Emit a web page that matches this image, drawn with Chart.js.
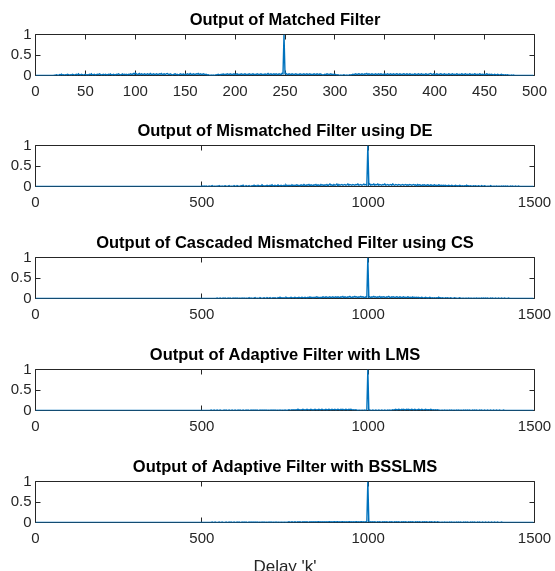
<!DOCTYPE html>
<html><head><meta charset="utf-8">
<script src="https://cdn.jsdelivr.net/npm/chart.js@4.4.1/dist/chart.umd.min.js"></script>
<style>
html,body{margin:0;padding:0;background:#fff;width:555px;height:571px;overflow:hidden;position:relative}
canvas{position:absolute;left:0}
</style></head><body>
<canvas id="c0" width="570" height="112" style="top:0px"></canvas>
<canvas id="c1" width="570" height="112" style="top:111px"></canvas>
<canvas id="c2" width="570" height="112" style="top:223px"></canvas>
<canvas id="c3" width="570" height="112" style="top:335px"></canvas>
<canvas id="c4" width="570" height="134" style="top:447px"></canvas>
<script>
// ---- titles / tick labels ----
const plotTitles = [
  "Output of Matched Filter",
  "Output of Mismatched Filter using DE",
  "Output of Cascaded Mismatched Filter using CS",
  "Output of Adaptive Filter with LMS",
  "Output of Adaptive Filter with BSSLMS"
];
const xAxisTitle = "Delay 'k'";
const yTickLabels = ["0", "0.5", "1"];     // normalised output: 0, 50, 100 % of peak
const xTickLabelsMF = ["0","50","100","150","200","250","300","350","400","450","500"];
const xTickLabelsLong = ["0","500","1000","1500"];
// delay axis (categories) : 0..499 for the matched filter, 0..1497 (every 3rd lag) for the others
const delayMF = Array.from({length: 500}, (_, i) => i);
const delayLong = Array.from({length: 500}, (_, i) => i * 3);

// ---- series values, in percent of the main peak ----
const matchedOut = [
0,0,0,0,0,0,0,0,0,0, 0,0,0,0,0,0,0,0,0,1, 1,2,1,0,2,1,3,1,2,1, 2,1,3,2,1,2,1,3,2,1,
2,3,1,4,2,1,3,2,1,2, 3,1,2,1,3,2,4,1,2,3, 1,2,3,2,4,3,1,2,3,1, 3,2,1,3,2,4,2,1,3,2,
1,3,2,4,3,1,2,4,2,3, 2,3,1,3,2,4,3,2,5,3, 6,4,2,3,5,2,4,3,2,4, 3,2,4,3,2,5,3,2,4,3,
2,4,3,2,4,3,5,2,3,4, 2,4,5,3,2,4,3,1,2,3, 4,2,3,1,2,4,3,2,4,2, 3,2,4,3,2,5,3,2,4,3,
2,4,3,5,2,4,3,2,4,3, 2,3,1,2,1,0,1,0,1,0, 1,2,1,3,2,1,3,2,4,2, 3,2,4,3,2,4,3,2,3,4,
2,3,4,2,3,2,4,3,2,3, 4,2,3,2,4,3,2,3,4,2, 3,2,4,3,2,3,4,2,3,2, 4,2,3,5,2,3,4,2,3,4,
2,4,3,2,4,3,2,5,4,100, 4,5,3,2,4,3,2,4,3,2, 3,4,2,3,2,4,3,2,3,4, 2,3,4,2,3,4,2,3,2,4,
3,2,4,3,2,4,3,2,1,2, 3,2,4,3,2,3,4,2,3,2, 3,2,1,2,1,0,1,0,1,2, 1,0,1,0,1,2,1,2,3,2,
3,4,2,3,4,3,2,4,3,2, 4,3,5,2,4,3,2,4,3,2, 3,4,2,3,4,2,4,3,2,3, 4,2,3,4,2,3,4,2,3,4,
2,3,4,3,2,4,3,2,3,4, 3,2,4,3,2,4,3,2,3,2, 4,3,2,3,4,2,3,4,2,3, 2,4,3,2,3,4,5,3,2,4,
3,2,4,3,2,3,4,3,2,3, 4,2,3,2,4,3,2,3,4,2, 3,2,4,3,2,3,2,4,3,2, 3,4,2,3,2,4,3,2,3,2,
4,3,2,3,2,4,3,2,3,2, 3,2,4,3,2,3,2,3,2,1, 3,2,1,3,2,1,2,3,1,2, 1,2,1,2,1,1,0,1,0,1,
0,0,0,0,0,0,0,0,0,0, 0,0,0,0,0,0,0,0,0,0
];
const deOut = [
0,0,0,0,0,0,0,0,0,0, 0,0,0,0,0,0,0,0,0,0, 0,0,0,0,0,0,0,0,0,0, 0,0,0,0,0,0,0,0,0,0,
0,0,0,0,0,0,0,0,0,0, 0,0,0,0,0,0,0,0,0,0, 0,0,0,0,0,0,0,0,0,0, 0,0,0,0,0,0,0,0,0,0,
0,0,0,0,0,0,0,0,0,0, 0,0,0,0,0,0,0,0,0,0, 0,0,0,0,0,0,0,0,0,0, 0,0,0,0,0,0,0,0,0,0,
0,0,0,0,0,0,0,0,0,0, 0,0,0,0,0,0,0,0,0,0, 0,0,0,0,0,0,0,0,0,0, 0,0,0,0,0,0,0,0,0,0,
0,0,0,0,0,0,0,1,0,1, 0,1,0,0,1,0,1,2,0,1, 1,0,1,0,2,1,0,1,0,1, 2,1,0,1,2,0,1,1,0,2,
1,0,2,1,1,0,2,1,3,1, 0,2,1,1,2,0,1,2,1,3, 1,2,0,3,1,2,1,4,2,1, 2,1,3,2,1,3,2,4,1,2,
3,1,2,4,2,1,3,2,1,3, 2,4,1,3,2,3,1,4,2,3, 2,3,4,2,3,1,4,3,2,5, 3,2,4,3,5,2,4,3,2,4,
3,5,2,4,3,2,5,3,4,2, 4,3,5,2,4,6,3,4,2,5, 3,4,6,2,5,3,4,5,3,4, 5,3,4,6,3,5,4,3,5,4,
3,5,4,6,3,4,5,3,4,6, 4,5,3,100,4,6,3,5,4,6, 3,5,4,6,3,5,4,3,5,4, 6,3,4,5,3,4,5,3,6,4,
3,5,4,3,5,4,3,4,5,3, 4,5,3,4,3,5,4,3,4,5, 3,4,2,5,3,4,3,2,4,3, 4,2,3,4,3,2,4,3,2,3,
4,2,3,2,4,3,2,3,2,3, 2,3,1,2,3,2,1,3,2,1, 2,3,1,2,1,3,2,1,2,1, 2,1,3,1,2,1,2,1,1,2,
1,2,1,1,2,1,0,2,1,1, 2,1,0,1,1,0,2,1,0,1, 1,0,1,0,1,1,0,1,0,1, 0,1,0,1,0,0,1,0,1,0,
0,1,0,0,1,0,0,0,0,0, 0,0,0,0,0,0,0,0,0,0
];
const csOut = [
0,0,0,0,0,0,0,0,0,0, 0,0,0,0,0,0,0,0,0,0, 0,0,0,0,0,0,0,0,0,0, 0,0,0,0,0,0,0,0,0,0,
0,0,0,0,0,0,0,0,0,0, 0,0,0,0,0,0,0,0,0,0, 0,0,0,0,0,0,0,0,0,0, 0,0,0,0,0,0,0,0,0,0,
0,0,0,0,0,0,0,0,0,0, 0,0,0,0,0,0,0,0,0,0, 0,0,0,0,0,0,0,0,0,0, 0,0,0,0,0,0,0,0,0,0,
0,0,0,0,0,0,0,0,0,0, 0,0,0,0,0,0,0,0,0,0, 0,0,0,0,0,0,0,0,0,0, 0,0,0,0,0,0,0,0,0,0,
0,0,0,0,0,0,0,0,0,0, 0,0,0,0,0,0,0,0,0,0, 0,0,1,0,0,1,0,0,1,0, 1,0,0,1,0,1,0,0,1,0,
1,0,1,0,1,1,0,1,0,1, 0,1,1,0,2,0,1,0,1,1, 2,0,1,1,0,2,1,0,1,2, 1,0,2,1,1,2,0,1,2,1,
2,1,0,2,1,3,1,2,1,2, 1,3,2,1,2,1,3,2,1,2, 3,1,2,2,3,1,2,3,2,1, 3,2,1,3,2,4,2,3,1,3,
2,3,4,2,3,1,3,2,4,3, 2,4,3,2,3,4,2,3,4,2, 3,4,2,4,3,2,4,3,5,2, 4,3,2,4,3,5,3,2,4,3,
5,3,4,2,4,3,5,3,4,3, 2,4,3,100,3,4,2,4,3,5, 3,4,2,4,3,5,2,4,3,4, 3,2,4,3,5,3,2,4,3,4,
2,3,4,3,2,4,3,2,3,4, 2,3,2,4,3,2,3,2,4,2, 3,2,3,2,3,1,2,3,2,1, 2,3,1,2,1,3,2,1,2,1,
2,1,2,1,3,1,2,1,2,1, 1,2,1,2,1,1,2,1,0,1, 2,1,1,0,1,2,1,0,1,1, 0,1,1,0,1,0,1,1,0,1,
1,0,1,0,1,1,0,1,0,1, 0,1,0,1,0,0,1,0,1,0, 0,1,0,0,1,0,0,1,0,0, 1,0,0,0,1,0,0,0,0,0,
0,0,0,0,0,0,0,0,0,0, 0,0,0,0,0,0,0,0,0,0
];
const lmsOut = [
0,0,0,0,0,0,0,0,0,0, 0,0,0,0,0,0,0,0,0,0, 0,0,0,0,0,0,0,0,0,0, 0,0,0,0,0,0,0,0,0,0,
0,0,0,0,0,0,0,0,0,0, 0,0,0,0,0,0,0,0,0,0, 0,0,0,0,0,0,0,0,0,0, 0,0,0,0,0,0,0,0,0,0,
0,0,0,0,0,0,0,0,0,0, 0,0,0,0,0,0,0,0,0,0, 0,0,0,0,0,0,0,0,0,0, 0,0,0,0,0,0,0,0,0,0,
0,0,0,0,0,0,0,0,0,0, 0,0,0,0,0,0,0,0,0,0, 0,0,0,0,0,0,0,0,0,0, 0,0,0,0,0,0,0,0,0,0,
0,0,0,0,0,0,0,0,0,0, 0,0,0,0,0,0,1,0,0,1, 0,0,1,0,0,1,0,0,0,1, 0,1,0,0,1,0,0,1,0,0,
1,0,0,1,0,1,0,0,1,0, 0,1,0,1,0,0,1,0,1,0, 1,0,1,0,0,1,0,1,0,1, 0,1,0,1,1,0,1,0,1,0,
1,0,1,1,0,1,0,1,1,0, 1,1,0,1,2,1,1,2,1,2, 1,2,1,3,1,2,1,2,3,1, 2,1,3,2,1,2,3,1,2,1,
3,2,1,2,3,1,2,3,2,1, 2,3,1,2,3,2,1,3,2,2, 3,1,2,3,2,1,3,2,3,1, 2,3,2,1,3,2,3,2,1,2,
1,2,1,0,1,1,0,1,1,0, 1,0,1,100,0,1,0,0,1,0, 0,1,0,0,1,0,0,1,0,0, 1,0,0,1,0,1,0,1,2,1,
2,3,1,2,3,2,1,3,2,3, 1,2,3,2,3,1,2,3,2,1, 3,2,1,2,3,2,1,3,2,1, 2,3,1,2,2,1,3,2,1,2,
1,2,1,2,1,1,0,1,1,0, 1,0,1,1,0,1,0,1,0,1, 1,0,1,0,1,0,1,1,0,1, 0,1,0,1,0,1,0,0,1,0,
1,0,1,0,0,1,0,1,0,0, 1,0,0,1,0,0,1,0,0,1, 0,0,1,0,0,1,0,0,0,1, 0,0,0,0,0,0,0,0,0,0,
0,0,0,0,0,0,0,0,0,0, 0,0,0,0,0,0,0,0,0,0
];
const bsslmsOut = [
0,0,0,0,0,0,0,0,0,0, 0,0,0,0,0,0,0,0,0,0, 0,0,0,0,0,0,0,0,0,0, 0,0,0,0,0,0,0,0,0,0,
0,0,0,0,0,0,0,0,0,0, 0,0,0,0,0,0,0,0,0,0, 0,0,0,0,0,0,0,0,0,0, 0,0,0,0,0,0,0,0,0,0,
0,0,0,0,0,0,0,0,0,0, 0,0,0,0,0,0,0,0,0,0, 0,0,0,0,0,0,0,0,0,0, 0,0,0,0,0,0,0,0,0,0,
0,0,0,0,0,0,0,0,0,0, 0,0,0,0,0,0,0,0,0,0, 0,0,0,0,0,0,0,0,0,0, 0,0,0,0,0,0,0,0,0,0,
0,0,0,0,0,0,0,0,0,0, 0,0,0,0,0,0,0,1,0,0, 1,0,0,0,1,0,0,1,0,0, 0,1,0,0,1,0,1,0,0,1,
0,0,1,0,1,0,0,1,0,1, 0,1,0,0,1,0,1,0,1,0, 1,0,1,0,1,1,0,1,0,1, 0,1,1,0,1,0,1,0,1,1,
0,1,0,1,1,0,1,1,0,1, 1,0,1,1,2,1,1,2,1,1, 2,1,1,2,1,2,1,1,2,1, 2,1,2,1,1,2,1,2,1,2,
1,2,1,2,2,1,2,1,2,1, 2,1,2,1,2,2,1,2,1,2, 2,1,2,2,1,2,1,2,2,1, 2,1,2,1,2,2,1,2,1,2,
1,2,2,1,2,1,2,2,1,2, 1,2,1,100,2,1,2,1,2,1, 2,1,1,2,1,2,1,1,2,1, 2,1,2,1,1,2,1,2,1,1,
2,1,2,1,2,1,1,2,1,2, 1,2,1,1,2,1,2,1,2,1, 1,2,1,2,1,2,1,1,2,1, 2,1,2,1,1,2,1,2,1,1,
2,1,1,2,1,1,0,1,1,0, 1,0,1,1,0,1,0,1,0,1, 1,0,1,0,1,0,1,0,0,1, 0,1,0,1,0,0,1,0,1,0,
1,0,0,1,0,1,0,0,1,0, 0,1,0,0,1,0,0,1,0,0, 1,0,0,1,0,0,0,1,0,0, 0,0,0,0,0,0,0,0,0,0,
0,0,0,0,0,0,0,0,0,0, 0,0,0,0,0,0,0,0,0,0
];

// ---- drawing ----
const FONT = "Arial, 'Liberation Sans', Helvetica, sans-serif";
const AXIS_COLOR = '#262626';
const LINE_COLOR = '#0072BD';

const matlabBox = {
  id: 'matlabBox',
  beforeDatasetsDraw(chart) {
    const {ctx, chartArea: a, scales: {x, y}} = chart;
    ctx.save();
    ctx.strokeStyle = AXIS_COLOR;
    ctx.lineWidth = 1;
    ctx.beginPath();
    ctx.rect(a.left, a.top, a.right - a.left, a.bottom - a.top);
    const tl = 5;
    x.ticks.forEach(t => {
      const px = Math.round(x.getPixelForValue(t.value) - 0.5) + 0.5;
      ctx.moveTo(px, a.bottom); ctx.lineTo(px, a.bottom - tl);
      ctx.moveTo(px, a.top); ctx.lineTo(px, a.top + tl);
    });
    y.ticks.forEach(t => {
      const py = Math.round(y.getPixelForValue(t.value) - 0.5) + 0.5;
      ctx.moveTo(a.left, py); ctx.lineTo(a.left + tl, py);
      ctx.moveTo(a.right, py); ctx.lineTo(a.right - tl, py);
    });
    ctx.stroke();
    ctx.restore();
  }
};

function makeChart(id, title, labels, values, xMax, xStep, xTickLabels, isLast) {
  new Chart(document.getElementById(id), {
    type: 'line',
    data: {
      labels: labels,
      datasets: [{
        data: values,
        yAxisID: 'y',
        borderColor: LINE_COLOR,
        borderWidth: 1.4,
        pointRadius: 0,
        tension: 0,
        fill: false
      }]
    },
    options: {
      responsive: false,
      animation: false,
      events: [],
      layout: {padding: {left: 0, right: 0, top: 0, bottom: 0}},
      plugins: {
        legend: {display: false},
        tooltip: {enabled: false},
        title: {
          display: true, text: title, color: '#000',
          font: {family: FONT, size: 16.5, weight: 'bold'},
          padding: {top: 11, bottom: 3.7}
        }
      },
      scales: {
        x: {
          type: 'linear', min: 0, max: xMax,
          grid: {display: false, drawTicks: false},
          border: {display: false},
          ticks: {stepSize: xStep, color: AXIS_COLOR, font: {family: FONT, size: 15}, padding: 7,
                  maxRotation: 0, autoSkip: false, callback: (v, i) => xTickLabels[i]},
          title: isLast ? {display: true, text: xAxisTitle, color: AXIS_COLOR, font: {family: FONT, size: 17}, padding: {top: 0, bottom: 3}} : {display: false},
          afterFit(s) { s.height = isLast ? 58.5 : 36.5; }
        },
        y: {
          position: 'left',
          min: 0, max: 100,
          grid: {display: false, drawTicks: false},
          border: {display: false},
          ticks: {stepSize: 50, color: AXIS_COLOR, font: {family: FONT, size: 15}, padding: 4,
                  autoSkip: false, callback: (v, i) => yTickLabels[i]},
          afterFit(s) { s.width = 35.5; }
        },
        yRight: {
          position: 'right',
          min: 0, max: 100,
          grid: {display: false, drawTicks: false},
          border: {display: false},
          ticks: {display: false},
          afterFit(s) { s.width = 35.5; }
        }
      }
    },
    plugins: [matlabBox]
  });
}

makeChart('c0', plotTitles[0], delayMF, matchedOut, 500, 50, xTickLabelsMF, false);
makeChart('c1', plotTitles[1], delayLong, deOut, 1500, 500, xTickLabelsLong, false);
makeChart('c2', plotTitles[2], delayLong, csOut, 1500, 500, xTickLabelsLong, false);
makeChart('c3', plotTitles[3], delayLong, lmsOut, 1500, 500, xTickLabelsLong, false);
makeChart('c4', plotTitles[4], delayLong, bsslmsOut, 1500, 500, xTickLabelsLong, true);
</script>
</body></html>
